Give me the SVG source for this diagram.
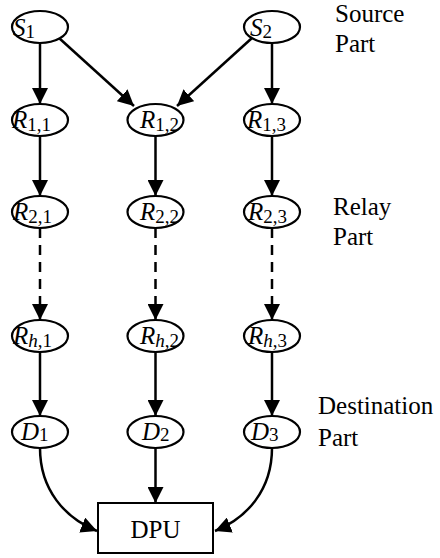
<svg xmlns="http://www.w3.org/2000/svg" width="440" height="558" viewBox="0 0 440 558">
<style>
.node ellipse{fill:#fff;stroke:#000;stroke-width:2.2}
.lbl{font-family:"Liberation Serif","Times New Roman",serif;font-size:25px;font-style:italic;fill:#000}
.sub{font-style:normal;font-size:19px}
.txt{font-family:"Liberation Serif","Times New Roman",serif;font-size:25px;fill:#000}
.edge{fill:none;stroke:#000;stroke-width:2.5}
.dash{stroke-dasharray:10 7}
</style>
<defs>
<marker id="ah" viewBox="0 0 16 16" refX="16" refY="8" markerWidth="16" markerHeight="16" markerUnits="userSpaceOnUse" orient="auto">
<path d="M0,0 L16,8 L0,16 Z" fill="#000"/>
</marker>
</defs>
<g id="connectors">
<path class="edge" d="M40,43 V104" marker-end="url(#ah)"/>
<path class="edge" d="M59,38 L134,106" marker-end="url(#ah)"/>
<path class="edge" d="M252,38 L177,106" marker-end="url(#ah)"/>
<path class="edge" d="M272,43 V104" marker-end="url(#ah)"/>
<path class="edge" d="M40,136 V196" marker-end="url(#ah)"/>
<path class="edge" d="M155.5,136 V196" marker-end="url(#ah)"/>
<path class="edge" d="M272,136 V196" marker-end="url(#ah)"/>
<path class="edge dash" d="M40,228 V320" marker-end="url(#ah)"/>
<path class="edge dash" d="M155.5,228 V320" marker-end="url(#ah)"/>
<path class="edge dash" d="M272,228 V320" marker-end="url(#ah)"/>
<path class="edge" d="M40,352 V416" marker-end="url(#ah)"/>
<path class="edge" d="M155.5,352 V416" marker-end="url(#ah)"/>
<path class="edge" d="M272,352 V416" marker-end="url(#ah)"/>
<path class="edge" d="M155.5,448 V503" marker-end="url(#ah)"/>
<path class="edge" d="M40,448 C40,490 65,518 97,531" marker-end="url(#ah)"/>
<path class="edge" d="M272,448 C272,490 247,518 215,531" marker-end="url(#ah)"/>
</g>
<g id="S1" class="node"><ellipse cx="40" cy="27" rx="28" ry="16"/><text class="lbl" x="13" y="36">S<tspan class="sub" dy="2">1</tspan></text></g>
<g id="S2" class="node"><ellipse cx="272" cy="27" rx="28" ry="16"/><text class="lbl" x="250" y="36">S<tspan class="sub" dy="2">2</tspan></text></g>
<g id="R11" class="node"><ellipse cx="40" cy="120" rx="28" ry="16"/><text class="lbl" x="12" y="128">R<tspan class="sub" dy="3">1,1</tspan></text></g>
<g id="R12" class="node"><ellipse cx="155.5" cy="120" rx="28" ry="16"/><text class="lbl" x="140" y="128">R<tspan class="sub" dy="3">1,2</tspan></text></g>
<g id="R13" class="node"><ellipse cx="272" cy="120" rx="28" ry="16"/><text class="lbl" x="247" y="128">R<tspan class="sub" dy="3">1,3</tspan></text></g>
<g id="R21" class="node"><ellipse cx="40" cy="212" rx="28" ry="16"/><text class="lbl" x="13" y="220">R<tspan class="sub" dy="3">2,1</tspan></text></g>
<g id="R22" class="node"><ellipse cx="155.5" cy="212" rx="28" ry="16"/><text class="lbl" x="140" y="220">R<tspan class="sub" dy="3">2,2</tspan></text></g>
<g id="R23" class="node"><ellipse cx="272" cy="212" rx="28" ry="16"/><text class="lbl" x="248" y="220">R<tspan class="sub" dy="3">2,3</tspan></text></g>
<g id="Rh1" class="node"><ellipse cx="40" cy="336" rx="28" ry="16"/><text class="lbl" x="13" y="344">R<tspan class="sub" dy="3"><tspan font-style="italic">h</tspan>,1</tspan></text></g>
<g id="Rh2" class="node"><ellipse cx="155.5" cy="336" rx="28" ry="16"/><text class="lbl" x="140" y="344">R<tspan class="sub" dy="3"><tspan font-style="italic">h</tspan>,2</tspan></text></g>
<g id="Rh3" class="node"><ellipse cx="272" cy="336" rx="28" ry="16"/><text class="lbl" x="248" y="344">R<tspan class="sub" dy="3"><tspan font-style="italic">h</tspan>,3</tspan></text></g>
<g id="D1" class="node"><ellipse cx="40" cy="432" rx="28" ry="16"/><text class="lbl" x="21" y="440">D<tspan class="sub" dy="1">1</tspan></text></g>
<g id="D2" class="node"><ellipse cx="155.5" cy="432" rx="28" ry="16"/><text class="lbl" x="142" y="440">D<tspan class="sub" dy="1">2</tspan></text></g>
<g id="D3" class="node"><ellipse cx="272" cy="432" rx="28" ry="16"/><text class="lbl" x="251" y="440">D<tspan class="sub" dy="1">3</tspan></text></g>
<g id="DPU"><rect x="98" y="503" width="115" height="50" fill="#fff" stroke="#000" stroke-width="2"/><text class="txt" x="155.5" y="538" text-anchor="middle">DPU</text></g>
<g id="labels">
<text class="txt" x="335" y="22">Source</text>
<text class="txt" x="335" y="52">Part</text>
<text class="txt" x="333" y="215">Relay</text>
<text class="txt" x="333" y="245">Part</text>
<text class="txt" x="318" y="414">Destination</text>
<text class="txt" x="318" y="446">Part</text>
</g>
</svg>
